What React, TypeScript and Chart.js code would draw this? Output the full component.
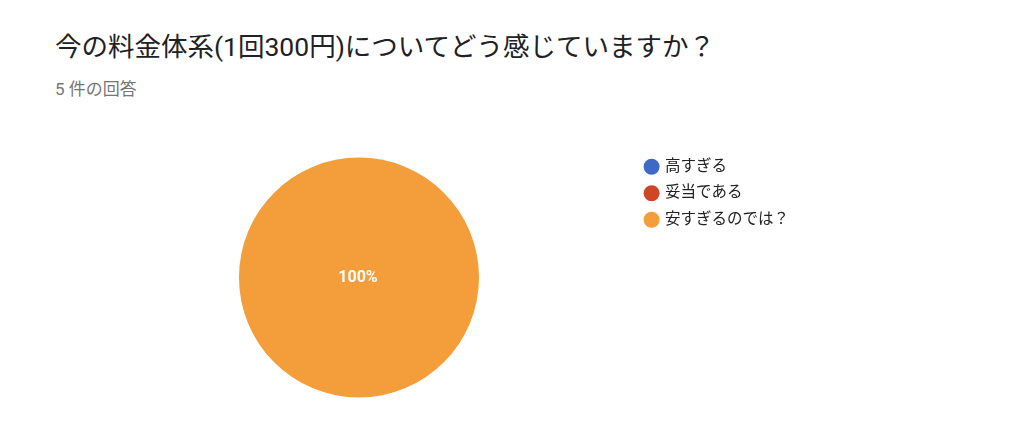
import { useEffect, useRef } from "react";
import { Chart, registerables, Plugin } from "chart.js";

Chart.register(...registerables);

const categories = ["高すぎる", "妥当である", "安すぎるのでは？"];
const responses = [0, 0, 5];
const sliceColors = ["#3e69c6", "#cf4526", "#f39e3a"];

const FONT = "Roboto, 'Noto Sans CJK JP', Arial, sans-serif";

const percentLabels: Plugin<"pie"> = {
  id: "percentLabels",
  afterDatasetsDraw(chart) {
    const { ctx } = chart;
    const meta = chart.getDatasetMeta(0);
    const values = chart.data.datasets[0].data as number[];
    const total = values.reduce((a, b) => a + b, 0);
    ctx.save();
    ctx.fillStyle = "#ffffff";
    ctx.font = `bold 16px ${FONT}`;
    ctx.textAlign = "center";
    ctx.textBaseline = "middle";
    meta.data.forEach((arc: any, i) => {
      const v = values[i];
      if (!v) return;
      const pct = Math.round((v / total) * 1000) / 10;
      const pos = v === total ? { x: arc.x - 1, y: arc.y } : arc.tooltipPosition();
      ctx.fillText(`${pct}%`, pos.x, pos.y);
    });
    ctx.restore();
  },
};

export default function App() {
  const chartRef = useRef<HTMLCanvasElement>(null);

  useEffect(() => {
    document.body.style.margin = "0";
    if (!chartRef.current) return;
    const ctx = chartRef.current.getContext("2d");
    if (!ctx) return;

    const chart = new Chart(ctx, {
      type: "pie",
      data: {
        labels: categories,
        datasets: [
          {
            data: responses,
            backgroundColor: sliceColors,
            borderWidth: 0,
            radius: 120,
          },
        ],
      },
      options: {
        animation: false,
        responsive: false,
        maintainAspectRatio: false,
        layout: {
          padding: { left: 83, top: 148, bottom: 30, right: 225 },
        },
        plugins: {
          tooltip: { enabled: false },
          legend: {
            position: "right",
            align: "start",
            labels: {
              usePointStyle: true,
              pointStyle: "circle",
              boxWidth: 11.3,
              boxHeight: 11.3,
              padding: 11,
              color: "#212121",
              font: { family: FONT, size: 15.5 },
            },
          },
        },
      },
      plugins: [percentLabels],
    });

    return () => chart.destroy();
  }, []);

  return (
    <div style={{ position: "relative", width: 1024, height: 437, background: "#fff", fontFamily: FONT }}>
      <div
        style={{
          position: "absolute",
          left: 55,
          top: 25,
          fontSize: 26.5,
          color: "#202124",
          whiteSpace: "nowrap",
        }}
      >
        今の料金体系(1回300円)についてどう感じていますか？
      </div>
      <div
        style={{
          position: "absolute",
          left: 55,
          top: 75,
          fontSize: 17,
          color: "#757575",
          whiteSpace: "nowrap",
        }}
      >
        5 件の回答
      </div>
      <canvas ref={chartRef} width={1024} height={437} style={{ position: "absolute", left: 0, top: 0 }} />
    </div>
  );
}
